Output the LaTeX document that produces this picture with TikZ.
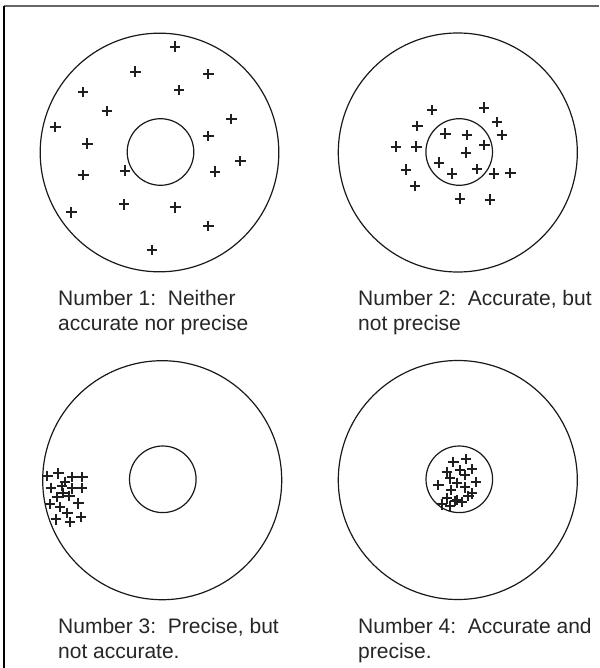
\documentclass[tikz,border=0pt]{standalone}
\usepackage{fontspec}
\setmainfont{Liberation Sans}
\begin{document}
\begin{tikzpicture}[x=1pt,y=-1pt,
  ring/.style={line width=1.2pt, draw=black!90},
  hit/.style={line width=1.8pt, draw=black!88},
  lbl/.style={anchor=base west, align=left, inner sep=0pt,
    font=\fontsize{21}{25}\selectfont, text=black!85}]
\useasboundingbox (0,0) rectangle (599,668);
% frame
\draw[line width=2pt, black!60] (4,6) -- (599,6);
\draw[line width=1.5pt] (4,6) -- (4,668);
% targets
\draw[ring] (159.5,152.5) circle[radius=119.3];
\draw[ring] (160.5,152) circle[radius=33.3];
\draw[ring] (457.8,152.5) circle[radius=119.5];
\draw[ring] (459.2,152) circle[radius=33.3];
\draw[ring] (162.2,480.2) circle[radius=119.5];
\draw[ring] (162.8,479.3) circle[radius=33.3];
\draw[ring] (457.8,480) circle[radius=119.5];
\draw[ring] (459.3,479.3) circle[radius=33.3];
% hits
\foreach \x/\y in {175/46.7,135.3/71.7,208.3/74.3,82.7/92.3,179/90.3,106.7/111,
  231.3/119,55.3/127.3,208.3/136.3,87.3/143.7,240.3/161.3,125/170.7,215/171.7,
  83.3/175.3,71.3/212.3,123.7/204.3,175.3/207.3,208.3/226,151.7/250,
  432/110,483.7/107.7,417.3/126,497/122.3,445.3/133.7,466.7/135,502/135,
  395.7/146.7,416.3/146.7,484.3/145.3,465.7/152.7,438.7/162.7,406/169.7,
  452/173.7,477/169.3,493.7/173.7,510.3/173,415/186,460/198.7,490/199.7,
  47.3/476,58.3/473.3,71.7/476.7,82.3/476.7,50.7/487.7,61.7/486,65/481.7,
  71.7/488.3,81.7/487.7,56.7/496.7,63.3/492.7,69.3/496,50/504,60/506.7,
  78.3/503.3,56/519.3,67.3/512.7,70/521.7,80.7/516.7,
  453.3/461.7,465.7/459,446.7/471.7,460/470,471.7/469,465/475,450/478.3,
  456.7/482.7,438.3/485,475.7/481.7,465/487.3,450.7/490,471.7/493.3,
  468.3/496,446.7/498.3,456.7/500,461.7/501.7,441.7/504.3,450/505.7,455/500.7}
  \draw[hit] (\x-5.2,\y) -- (\x+5.2,\y) (\x,\y-5.2) -- (\x,\y+5.2);
% labels (base = baseline of the last line)
\node[lbl] (lab1) at (58,330) {Number 1:\ \ Neither\\accurate nor precise};
\node[lbl] (lab2) at (358,330) {Number 2:\ \ Accurate, but\\not precise};
\node[lbl] (lab3) at (58,658) {Number 3:\ \ Precise, but\\not accurate.};
\node[lbl] (lab4) at (358,658) {Number 4:\ \ Accurate and\\precise.};
\end{tikzpicture}
\end{document}
